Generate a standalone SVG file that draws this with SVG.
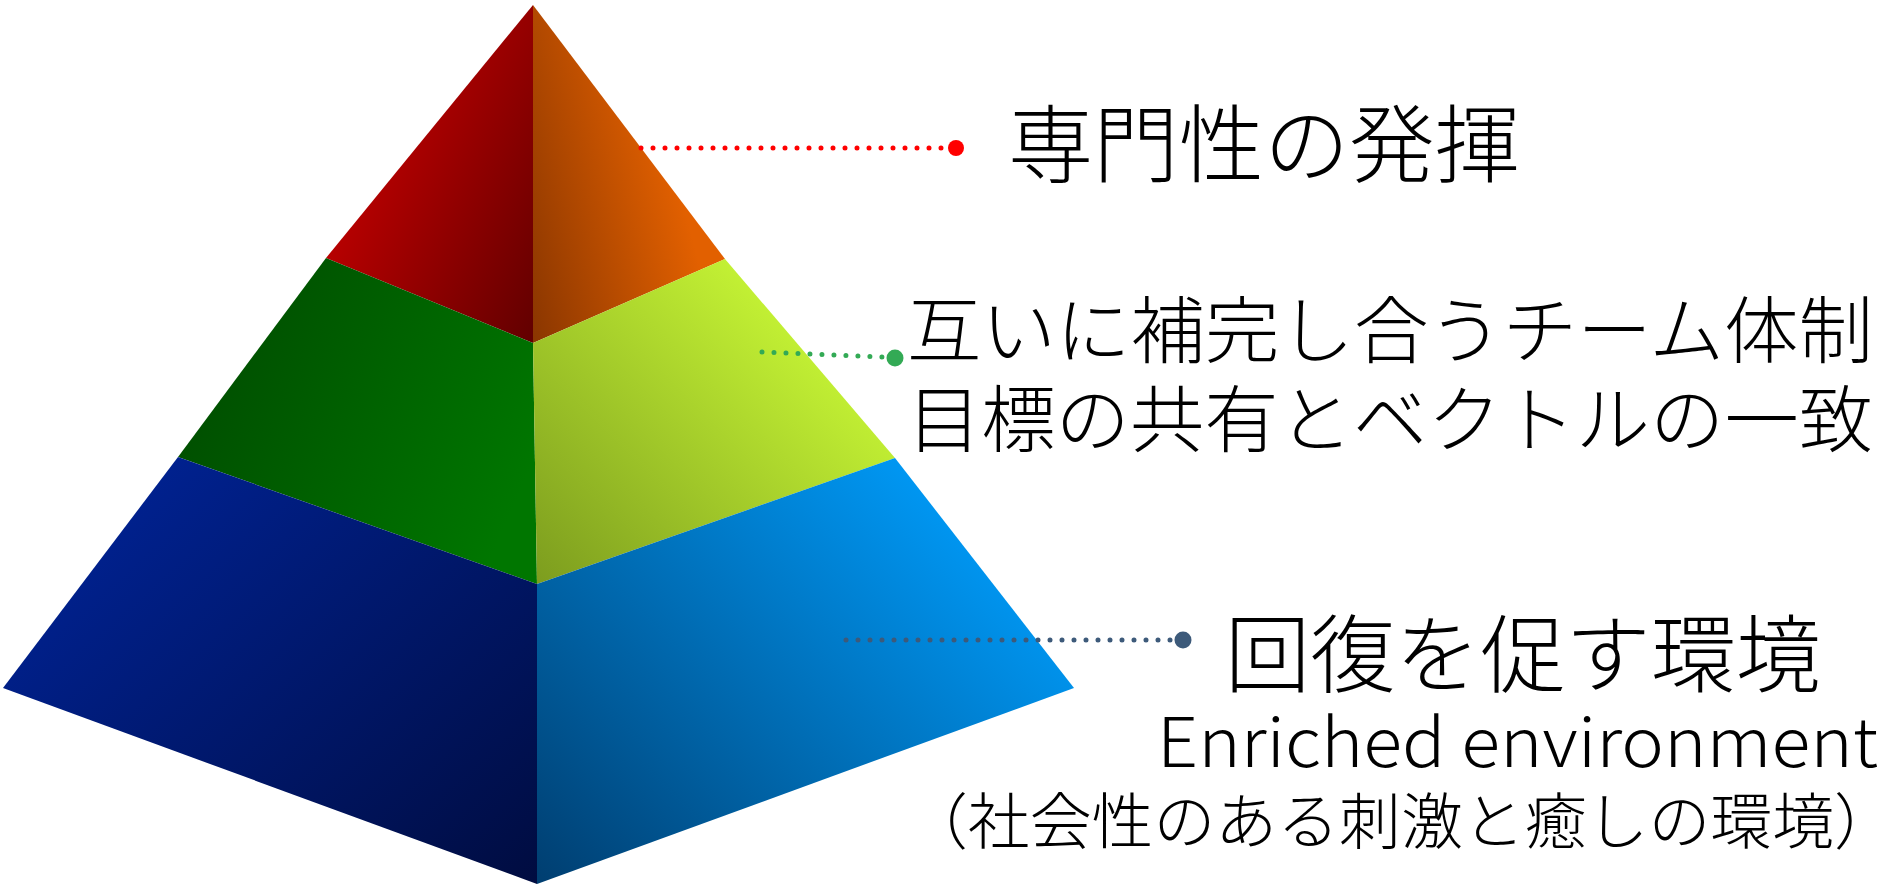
<svg xmlns="http://www.w3.org/2000/svg" width="1899" height="884" viewBox="0 0 1899 884">
  <defs>
    <linearGradient id="gTL" x1="0.1" y1="0.3" x2="1" y2="0.95">
      <stop offset="0.15" stop-color="#b80000"/>
      <stop offset="1" stop-color="#640000"/>
    </linearGradient>
    <linearGradient id="gTR" x1="0.9" y1="0.6" x2="0" y2="1">
      <stop offset="0.1" stop-color="#e26000"/>
      <stop offset="1" stop-color="#8a3600"/>
    </linearGradient>
    <linearGradient id="gML" x1="0" y1="0.2" x2="1" y2="0.6">
      <stop offset="0" stop-color="#004a00"/>
      <stop offset="1" stop-color="#007600"/>
    </linearGradient>
    <linearGradient id="gMR" x1="0.9" y1="0.2" x2="0" y2="1">
      <stop offset="0.1" stop-color="#c4f234"/>
      <stop offset="1" stop-color="#7c9c1e"/>
    </linearGradient>
    <linearGradient id="gBL" x1="0" y1="0.1" x2="1" y2="1">
      <stop offset="0" stop-color="#00249a"/>
      <stop offset="1" stop-color="#000c40"/>
    </linearGradient>
    <linearGradient id="gBR" x1="1" y1="0.2" x2="0" y2="1">
      <stop offset="0.05" stop-color="#009cfa"/>
      <stop offset="1" stop-color="#003e70"/>
    </linearGradient>
    <style>
      .lbl { font-family: "Noto Sans CJK JP", "Noto Sans", sans-serif; font-weight: 300; fill: #000; }
      .dots { fill: none; stroke-linecap: round; stroke-width: 5; stroke-dasharray: 0 12; }
    </style>
  </defs>

  <g id="tier-top">
    <polygon points="533,5 326,258 533,343" fill="url(#gTL)"/>
    <polygon points="533,5 725,259 533,343" fill="url(#gTR)"/>
  </g>
  <g id="tier-middle">
    <polygon points="326,258 178,457 537,584 533,343" fill="url(#gML)"/>
    <polygon points="725,259 895,458 537,584 533,343" fill="url(#gMR)"/>
  </g>
  <g id="tier-bottom">
    <polygon points="178,457 3,688 537,884 537,584" fill="url(#gBL)"/>
    <polygon points="895,458 1074,688 537,884 537,584" fill="url(#gBR)"/>
  </g>

  <g id="connectors">
    <line class="dots" x1="641" y1="148" x2="946" y2="148" stroke="#ff0000"/>
    <circle cx="956" cy="148" r="8" fill="#ff0000"/>
    <line class="dots" x1="762" y1="352" x2="884" y2="357" stroke="#33aa55"/>
    <circle cx="895" cy="358" r="8.5" fill="#33aa55"/>
    <line class="dots" x1="846" y1="640" x2="1171" y2="640" stroke="#3d5a7a"/>
    <circle cx="1183" cy="640" r="8.5" fill="#3d5a7a"/>
  </g>

  <g id="label-top">
    <text class="lbl" x="1008" y="176" font-size="85" textLength="512" lengthAdjust="spacingAndGlyphs">専門性の発揮</text>
  </g>
  <g id="label-middle">
    <text class="lbl" x="907" y="357" font-size="73" textLength="966" lengthAdjust="spacingAndGlyphs">互いに補完し合うチーム体制</text>
    <text class="lbl" x="907" y="446" font-size="73" textLength="966" lengthAdjust="spacingAndGlyphs">目標の共有とベクトルの一致</text>
  </g>
  <g id="label-bottom">
    <text class="lbl" x="1225" y="686" font-size="85" textLength="596" lengthAdjust="spacingAndGlyphs">回復を促す環境</text>
    <text class="lbl" x="1157" y="767" font-size="68" textLength="721" lengthAdjust="spacingAndGlyphs">Enriched environment</text>
    <text class="lbl" x="906" y="844" font-size="61" textLength="990" lengthAdjust="spacingAndGlyphs">（社会性のある刺激と癒しの環境）</text>
  </g>
</svg>
